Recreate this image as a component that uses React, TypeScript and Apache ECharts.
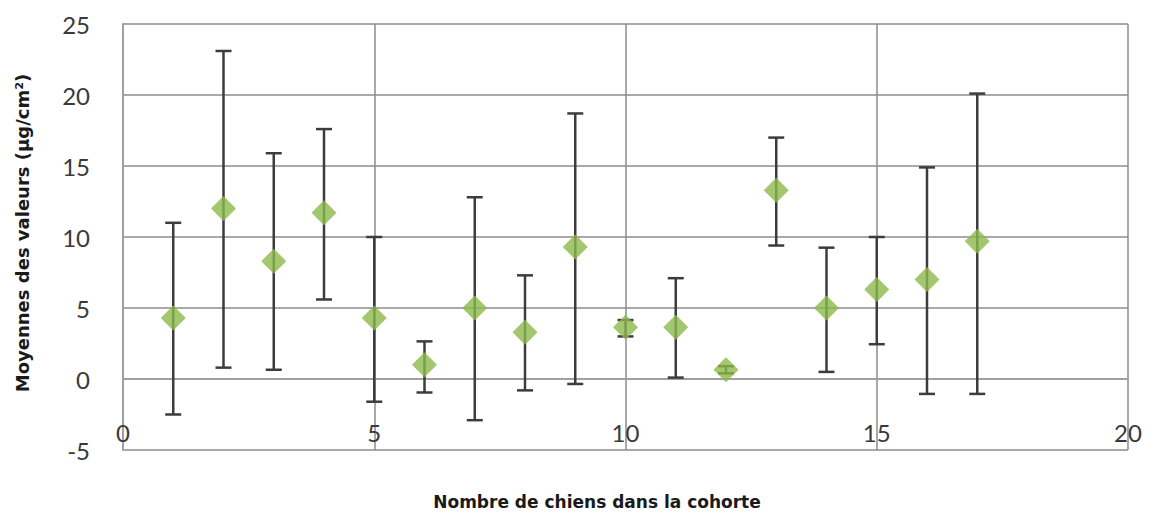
import React, { useEffect, useRef } from "react";
import * as echarts from "echarts";

const xValues = [1, 2, 3, 4, 5, 6, 7, 8, 9, 10, 11, 12, 13, 14, 15, 16, 17];
const means = [4.3, 12.0, 8.3, 11.7, 4.3, 1.0, 5.0, 3.3, 9.3, 3.65, 3.65, 0.65, 13.3, 5.0, 6.3, 7.0, 9.7];
const lows = [-2.5, 0.8, 0.65, 5.6, -1.6, -0.95, -2.9, -0.8, -0.35, 3.0, 0.1, 0.4, 9.4, 0.5, 2.45, -1.05, -1.05];
const highs = [11.0, 23.1, 15.9, 17.6, 10.0, 2.65, 12.8, 7.3, 18.7, 4.15, 7.1, 0.9, 17.0, 9.25, 10.0, 14.9, 20.1];

const yTitle = "Moyennes des valeurs (µg/cm²)";
const xTitle = "Nombre de chiens dans la cohorte";

export default function App() {
  const ref = useRef<HTMLDivElement>(null);
  useEffect(() => {
    if (!ref.current) return;
    const chart = echarts.init(ref.current, null, { renderer: "svg" });
    const errData = xValues.map((x, i) => [x, lows[i], highs[i]]);
    const ptData = xValues.map((x, i) => [x, means[i]]);
    const labelStyle = {
      fontSize: 24,
      color: "#3a3a3a",
      fontFamily: "Lato, 'Open Sans', sans-serif",
    };
    const titleFont = "'DejaVu Sans', Verdana, sans-serif";
    chart.setOption({
      animation: false,
      backgroundColor: "#ffffff",
      grid: { left: 123, right: 27, top: 24, bottom: 64, containLabel: false },
      xAxis: {
        type: "value",
        min: 0,
        max: 20,
        interval: 5,
        axisLine: { show: true, lineStyle: { color: "#a0a0a0", width: 2 } },
        axisTick: { show: false },
        axisLabel: { ...labelStyle, inside: true, margin: 6 },
        splitLine: { show: true, lineStyle: { color: "#8c8c8c", width: 1.5 } },
      },
      yAxis: {
        type: "value",
        min: -5,
        max: 25,
        interval: 5,
        axisLine: { show: true, lineStyle: { color: "#a0a0a0", width: 2 } },
        axisTick: { show: false },
        axisLabel: { ...labelStyle, margin: 33 },
        splitLine: { show: true, lineStyle: { color: "#8c8c8c", width: 1.5 } },
      },
      graphic: [
        {
          type: "text",
          x: 22,
          y: 233,
          rotation: Math.PI / 2,
          style: {
            text: yTitle,
            fontSize: 18,
            fontWeight: "bold",
            fontFamily: titleFont,
            fill: "#1a1a1a",
            textAlign: "center",
            textVerticalAlign: "middle",
          },
        },
        {
          type: "text",
          x: 597,
          y: 502,
          style: {
            text: xTitle,
            fontSize: 17,
            fontWeight: "bold",
            fontFamily: titleFont,
            fill: "#1a1a1a",
            textAlign: "center",
            textVerticalAlign: "middle",
          },
        },
      ],
      series: [
        {
          type: "custom",
          data: errData,
          z: 2,
          renderItem: (params: any, api: any) => {
            const x = api.value(0);
            const top = api.coord([x, api.value(2)]);
            const bot = api.coord([x, api.value(1)]);
            const hw = 8;
            const style = { stroke: "#3c3c3c", lineWidth: 2.5 };
            return {
              type: "group",
              children: [
                { type: "line", shape: { x1: top[0], y1: top[1], x2: bot[0], y2: bot[1] }, style },
                { type: "line", shape: { x1: top[0] - hw, y1: top[1], x2: top[0] + hw, y2: top[1] }, style },
                { type: "line", shape: { x1: bot[0] - hw, y1: bot[1], x2: bot[0] + hw, y2: bot[1] }, style },
              ],
            };
          },
        },
        {
          type: "scatter",
          data: ptData,
          z: 3,
          symbol: "diamond",
          symbolSize: [25, 25],
          itemStyle: { color: "#8cb94a" },
        },
      ],
    });
    return () => chart.dispose();
  }, []);
  return (
    <div
      ref={ref}
      style={{ position: "absolute", left: 0, top: 0, width: 1155, height: 514 }}
    />
  );
}
